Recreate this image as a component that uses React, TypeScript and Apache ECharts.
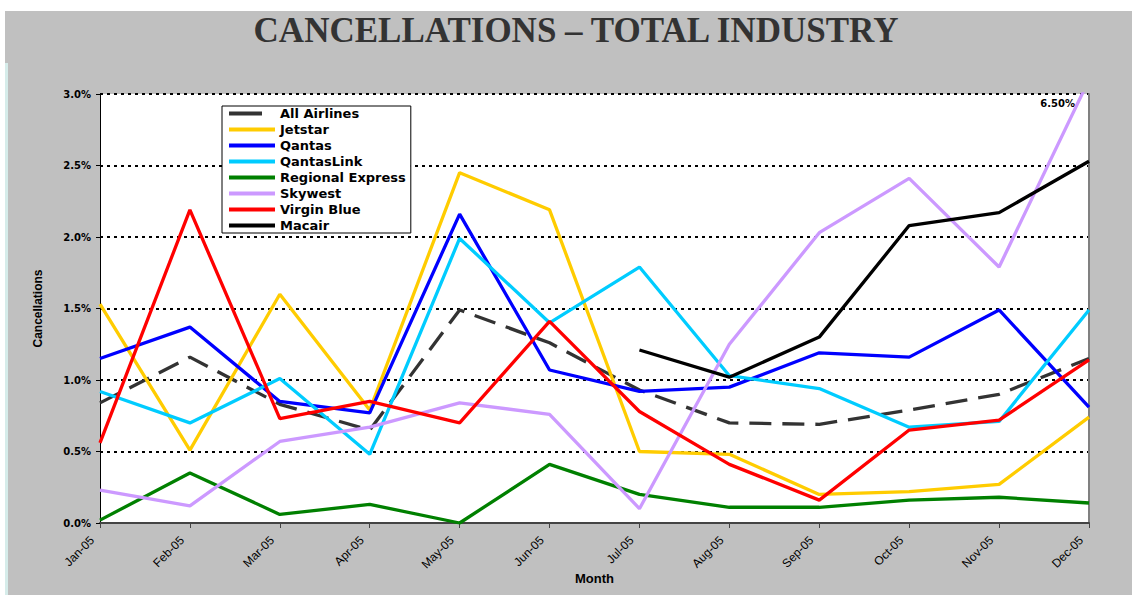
import React, { useEffect, useRef } from 'react';
import * as echarts from 'echarts';

const months = ['Jan-05', 'Feb-05', 'Mar-05', 'Apr-05', 'May-05', 'Jun-05', 'Jul-05', 'Aug-05', 'Sep-05', 'Oct-05', 'Nov-05', 'Dec-05'];

const allAirlines = [0.84, 1.16, 0.83, 0.65, 1.49, 1.26, 0.93, 0.70, 0.69, 0.79, 0.90, 1.15];
const jetstar = [1.53, 0.51, 1.60, 0.79, 2.45, 2.19, 0.50, 0.48, 0.20, 0.22, 0.27, 0.74];
const qantas = [1.15, 1.37, 0.85, 0.77, 2.16, 1.07, 0.92, 0.95, 1.19, 1.16, 1.49, 0.81];
const qantasLink = [0.92, 0.70, 1.01, 0.48, 1.99, 1.40, 1.79, 1.03, 0.94, 0.67, 0.71, 1.49];
const regionalExpress = [0.02, 0.35, 0.06, 0.13, 0.00, 0.41, 0.20, 0.11, 0.11, 0.16, 0.18, 0.14];
// Skywest Dec is drawn running off the top of the axis (actual value 6.50%)
const skywest = [0.23, 0.12, 0.57, 0.67, 0.84, 0.76, 0.10, 1.25, 2.03, 2.41, 1.79, 3.1];
const skywestDecActual = 6.5;
const virginBlue = [0.56, 2.19, 0.73, 0.85, 0.70, 1.41, 0.78, 0.41, 0.16, 0.65, 0.72, 1.14];
const macair = [null, null, null, null, null, null, 1.21, 1.02, 1.30, 2.08, 2.17, 2.53];

const seriesNames = ['All Airlines', 'Jetstar', 'Qantas', 'QantasLink', 'Regional Express', 'Skywest', 'Virgin Blue', 'Macair'];
const seriesColors = ['#333333', '#FFCC00', '#0000FF', '#00CCFF', '#008000', '#CC99FF', '#FF0000', '#000000'];
const seriesData = [allAirlines, jetstar, qantas, qantasLink, regionalExpress, skywest, virginBlue, macair];

const yTicks = { min: 0, max: 3, interval: 0.5 };

export default function App() {
  const ref = useRef<HTMLDivElement>(null);

  useEffect(() => {
    const chart = echarts.init(ref.current!, null, { renderer: 'svg' });
    const series = seriesNames.map((name, i) => ({
      name,
      type: 'line',
      data: seriesData[i],
      symbol: 'none',
      connectNulls: false,
      clip: true,
      lineStyle: {
        color: seriesColors[i],
        width: 3.3,
        type: i === 0 ? [22, 11] : 'solid',
      },
      itemStyle: { color: seriesColors[i] },
    }));

    const legendData = seriesNames.map((name, i) =>
      i === 0 ? { name, lineStyle: { type: [33, 20], width: 4 } } : { name }
    );

    chart.setOption({
      animation: false,
      backgroundColor: 'transparent',
      title: {
        text: 'CANCELLATIONS – TOTAL INDUSTRY',
        left: 571,
        top: 8,
        textAlign: 'center',
        textStyle: {
          fontFamily: 'Liberation Serif',
          fontWeight: 'bold',
          fontSize: 35,
          color: '#333333',
        },
      },
      legend: {
        orient: 'vertical',
        left: 222,
        top: 106,
        itemWidth: 46,
        itemHeight: 14,
        itemGap: 3,
        padding: [1, 5, 1, 5],
        backgroundColor: '#ffffff',
        borderColor: '#000000',
        borderWidth: 1,
        itemStyle: { opacity: 0 },
        lineStyle: { width: 4 },
        data: legendData,
        textStyle: {
          fontFamily: 'DejaVu Sans',
          fontWeight: 'bold',
          fontSize: 13,
          color: '#000000',
        },
      },
      grid: {
        left: 100,
        right: 43,
        top: 94,
        bottom: 72,
        show: true,
        backgroundColor: '#ffffff',
        borderWidth: 0,
        containLabel: false,
        outerBoundsMode: 'none',
      },
      xAxis: {
        type: 'category',
        data: months,
        boundaryGap: false,
        name: 'Month',
        nameLocation: 'middle',
        nameGap: 49,
        nameMoveOverlap: false,
        nameTextStyle: {
          fontFamily: 'Liberation Sans',
          fontWeight: 'bold',
          fontSize: 13,
          color: '#000000',
        },
        axisLine: { show: true, lineStyle: { color: '#444444', width: 2 } },
        axisTick: { show: true, length: 5, lineStyle: { color: '#444444', width: 1 } },
        axisLabel: {
          interval: 0,
          rotate: 45,
          margin: 23,
          align: 'right',
          verticalAlign: 'bottom',
          lineHeight: 22,
          fontFamily: 'Liberation Sans',
          fontSize: 12,
          color: '#000000',
        },
        splitLine: { show: false },
      },
      yAxis: [
        {
          type: 'value',
          min: yTicks.min,
          max: yTicks.max,
          interval: yTicks.interval,
          name: 'Cancellations',
          nameLocation: 'middle',
          nameRotate: 90,
          nameGap: 56,
          nameMoveOverlap: false,
          nameTextStyle: {
            fontFamily: 'Liberation Sans',
            fontWeight: 'bold',
            fontSize: 12,
            color: '#000000',
          },
          axisLine: { show: true, lineStyle: { color: '#000000', width: 1 } },
          axisTick: { show: true, length: 4, lineStyle: { color: '#000000' } },
          axisLabel: {
            margin: 9,
            formatter: (v: number) => v.toFixed(1) + '%',
            fontFamily: 'DejaVu Sans',
            fontWeight: 'bold',
            fontSize: 10,
            color: '#000000',
          },
          splitLine: { show: true, lineStyle: { color: '#000000', width: 2, type: [3, 4] } },
        },
        {
          type: 'value',
          position: 'right',
          min: yTicks.min,
          max: yTicks.max,
          interval: yTicks.interval,
          axisLine: { show: true, lineStyle: { color: '#808080', width: 2 } },
          axisTick: { show: false },
          axisLabel: { show: false },
          splitLine: { show: false },
        },
      ],
      series,
    });

    const p = chart.convertToPixel({ xAxisIndex: 0, yAxisIndex: 0 }, [months.length - 1, yTicks.max]) as number[];
    chart.setOption({
      graphic: [
        {
          type: 'text',
          x: p[0] - 14,
          y: p[1] + 9,
          style: {
            text: skywestDecActual.toFixed(2) + '%',
            align: 'right',
            verticalAlign: 'middle',
            fontFamily: 'DejaVu Sans',
            fontWeight: 'bold',
            fontSize: 10,
            fill: '#000000',
          },
        },
      ],
    });

    return () => chart.dispose();
  }, []);

  return (
    <div style={{ position: 'fixed', left: 0, top: 0, width: 1132, height: 595, background: '#ffffff' }}>
      <div style={{ position: 'absolute', left: 5, top: 11, right: 0, bottom: 0, background: '#c0c0c0' }} />
      <div style={{ position: 'absolute', left: 5, top: 63, width: 3, bottom: 0, background: '#d6ecea' }} />
      <div ref={ref} style={{ position: 'absolute', left: 0, top: 0, width: 1132, height: 595 }} />
    </div>
  );
}
